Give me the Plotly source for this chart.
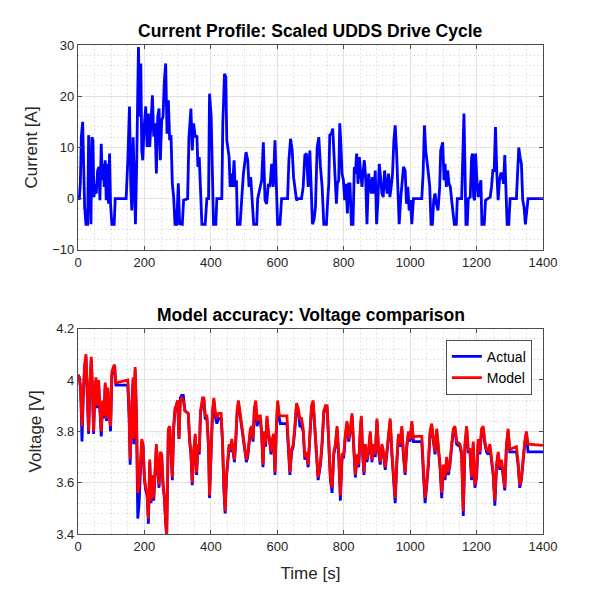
"""Current profile (scaled UDDS) and voltage model comparison
"""

from plotly.graph_objects import Scatter, Figure

# current profile (time [s], current [A])
t_cur = [
    0, 4, 7, 10, 14, 17, 20, 24, 29, 32,
    36, 39, 42, 45, 48, 52, 55, 59, 63, 66,
    70, 73, 76, 79, 82, 85, 88, 92, 95, 98,
    102, 109, 112, 145, 150, 155, 159, 162, 166, 170,
    173, 177, 182, 186, 189, 192, 195, 199, 204, 208,
    212, 216, 220, 224, 228, 232, 236, 240, 244, 248,
    252, 256, 260, 264, 268, 272, 276, 280, 284, 288,
    292, 297, 302, 306, 314, 318, 330, 334, 340, 344,
    348, 353, 358, 361, 365, 368, 373, 383, 388, 393,
    396, 401, 405, 408, 415, 418, 433, 436, 441, 445,
    448, 451, 455, 458, 461, 465, 470, 473, 477, 480,
    488, 493, 498, 503, 506, 511, 515, 520, 525, 529,
    538, 541, 553, 558, 563, 568, 573, 578, 583, 588,
    593, 598, 601, 608, 613, 631, 635, 640, 645, 649,
    653, 658, 663, 673, 678, 683, 688, 693, 698, 703,
    706, 711, 715, 720, 725, 730, 735, 740, 748, 752,
    755, 758, 763, 767, 771, 775, 778, 781, 785, 788,
    791, 795, 799, 803, 807, 811, 815, 819, 823, 828,
    832, 835, 839, 843, 847, 851, 855, 858, 862, 866,
    870, 875, 879, 883, 887, 891, 895, 899, 903, 907,
    911, 915, 919, 923, 927, 931, 935, 939, 943, 947,
    951, 955, 959, 963, 967, 972, 976, 980, 985, 989,
    993, 997, 1001, 1005, 1010, 1035, 1039, 1043, 1047, 1051,
    1055, 1059, 1063, 1067, 1071, 1075, 1079, 1084, 1089, 1092,
    1095, 1098, 1102, 1105, 1109, 1113, 1117, 1121, 1125, 1129,
    1133, 1139, 1142, 1155, 1158, 1162, 1165, 1168, 1172, 1175,
    1181, 1185, 1188, 1191, 1194, 1197, 1201, 1205, 1209, 1213,
    1216, 1223, 1227, 1235, 1241, 1245, 1249, 1253, 1257, 1261,
    1265, 1269, 1273, 1277, 1281, 1285, 1289, 1292, 1297, 1301,
    1320, 1324, 1327, 1331, 1335, 1339, 1343, 1347, 1351, 1355,
    1400,
]
i_cur = [
    0, 0, 3, 12, 15, 3.6, -1.6, -5, -5, 12.4,
    3.6, -5, 12, 11.4, 0.3, 2.9, 1, 5.5, 6.2, -0.3,
    10.7, 3.6, 6.8, 2.3, 7.5, -0.3, 6.8, -1, 8.8, -1,
    -5, -5, 0, 0, 7.5, 18, 2.3, -2.3, 12, -1.6,
    -5, 8.1, 29.6, 16, 26.4, 9.4, 7.5, 14, 18, 10.1,
    16.6, 10.1, 14.7, 20.2, 12.1, 14.7, 4.9, 16, 17.6, 7.5,
    15.3, 16, 23, 26.4, 12.7, 19.2, 11.4, 12.4, 2.9, 0.3,
    -5, -5, 3, -4.9, -5, -0.3, 0, 12, 17.6, 9.4,
    14.7, 12, 12.3, 6.2, 8.1, 2.3, -5, -5, 0, 0,
    20.5, 16, 6.2, -5, -5, 0, 0, 14.7, 24.4, 23.8,
    11.4, 9.4, 8.1, 2.3, 4.9, 2.3, 7.5, 2.3, 3.6, -5,
    -5, 0, 4.9, 7.5, 9.1, 7.5, 2.3, 4.2, 0, -5,
    -5, 0, 3.6, 11, -0.3, -1, 2.9, 2.3, 6.8, 2.3,
    11.4, 2.3, -5, -5, 0, 0, 7.5, 11.7, 9.4, 4.2,
    2.3, -0.3, 0, 0, 2.3, 8.5, 8.8, 2.3, 9.4, 0,
    -5, -4, -1.6, 10, 12, 6.2, 2.3, -5, -5, 0,
    2.9, 12.4, 12.7, 13.7, 9.4, 2.9, -1, 2.9, 3.6, 14.7,
    11.4, 4.9, 3.6, -0.3, 2.9, -2.9, 2.9, 2.9, -5, -5,
    6.2, 4.9, 8.8, 2.9, 8.1, 4.2, 2.3, 4.9, 7.5, 4.2,
    -5, 4.9, 2.9, 1, 4.2, 1, 5.5, -5, -0.3, 6.8,
    4.2, 1, 0.3, 5.5, 2.9, 1, 4.9, 0.3, 2.3, 4.9,
    11.4, 14.3, 9.4, 1, -5, 0.3, 4.2, 6.2, 5.5, -1,
    2.3, -2.3, -0.3, -5, 0, 0, 4.9, 14.3, 9.4, 7.5,
    4.9, 2.3, -5, -5, -0.3, 1, -1, -2.3, 2.3, 9.4,
    10, 11, 3.6, 6.8, 2.3, 5.5, 2.9, 2.3, -0.3, -2.9,
    -5, -5, 0, 0, 8.1, 16.6, 6.2, -5, -5, 0,
    0.3, 8.1, 8.8, 0.3, -0.3, 8.8, 3.6, 0.3, 2.3, 3.6,
    -5, -5, -0.3, 0, 0.3, 2.3, 5.5, 5.5, 14, 4.9,
    -0.3, 3.6, 4.9, 4.9, 2.9, 8.5, -0.3, -5, -5, 0,
    0, 5.5, 10, 8.1, 6.8, -0.3, -1.6, -5, -1.6, 0,
    0,
]

# terminal voltage (time [s], model [V], measured [V])
t_volt = [
    0, 4, 8, 12, 16, 20, 24, 28, 32, 36,
    40, 44, 47, 50, 54, 57, 62, 66, 70, 74,
    78, 82, 86, 90, 94, 98, 102, 106, 110, 114,
    118, 150, 154, 157, 162, 166, 168, 172, 176, 180,
    184, 188, 192, 196, 200, 204, 208, 212, 216, 220,
    224, 228, 232, 236, 240, 244, 248, 252, 256, 260,
    264, 267, 272, 276, 280, 284, 288, 292, 296, 300,
    304, 308, 312, 317, 322, 332, 336, 340, 344, 348,
    353, 357, 361, 365, 369, 375, 379, 383, 388, 393,
    396, 401, 405, 409, 413, 418, 423, 431, 435, 439,
    443, 447, 451, 455, 459, 463, 467, 471, 475, 479,
    483, 487, 491, 495, 499, 503, 507, 511, 515, 519,
    523, 527, 531, 535, 539, 543, 549, 553, 557, 561,
    565, 569, 573, 577, 581, 585, 589, 593, 597, 601,
    605, 609, 629, 633, 638, 643, 648, 653, 658, 663,
    668, 673, 678, 683, 688, 693, 698, 703, 708, 713,
    718, 723, 730, 735, 740, 745, 750, 755, 760, 765,
    770, 775, 780, 785, 790, 795, 800, 805, 810, 815,
    820, 825, 830, 835, 840, 845, 850, 853, 857, 861,
    865, 870, 875, 880, 885, 890, 895, 900, 905, 910,
    915, 920, 925, 930, 935, 940, 945, 950, 955, 960,
    965, 970, 975, 980, 985, 990, 995, 1000, 1005, 1010,
    1012, 1035, 1040, 1045, 1050, 1055, 1060, 1065, 1070, 1075,
    1080, 1085, 1090, 1095, 1100, 1105, 1110, 1115, 1120, 1125,
    1130, 1135, 1140, 1150, 1155, 1160, 1165, 1170, 1175, 1180,
    1185, 1190, 1195, 1200, 1205, 1210, 1215, 1220, 1225, 1230,
    1235, 1240, 1245, 1250, 1255, 1260, 1265, 1270, 1275, 1280,
    1285, 1290, 1295, 1300, 1320, 1325, 1330, 1335, 1340, 1345,
    1350, 1355, 1400,
]
v_model = [
    4.02, 4.01, 3.97, 3.82, 3.95, 4.06, 4.10, 3.95, 3.80, 3.99,
    4.09, 3.95, 3.80, 3.93, 4.01, 3.90, 4.00, 3.89, 3.80, 3.92,
    3.86, 3.99, 3.85, 3.97, 3.86, 3.82, 4.03, 4.05, 4.06, 3.99,
    3.99, 4.00, 3.87, 3.69, 3.92, 4.01, 3.77, 4.05, 3.87, 3.56,
    3.59, 3.69, 3.77, 3.75, 3.62, 3.58, 3.56, 3.46, 3.69, 3.53,
    3.63, 3.54, 3.63, 3.75, 3.66, 3.59, 3.72, 3.71, 3.60, 3.55,
    3.45, 3.40, 3.81, 3.82, 3.73, 3.62, 3.82, 3.89, 3.90, 3.92,
    3.77, 3.92, 3.93, 3.92, 3.88, 3.87, 3.77, 3.72, 3.60, 3.72,
    3.79, 3.64, 3.75, 3.72, 3.88, 3.93, 3.93, 3.86, 3.86, 3.75,
    3.55, 3.75, 3.88, 3.93, 3.88, 3.85, 3.87, 3.87, 3.77, 3.59,
    3.49, 3.63, 3.69, 3.75, 3.73, 3.77, 3.73, 3.69, 3.77, 3.88,
    3.92, 3.88, 3.84, 3.82, 3.76, 3.72, 3.69, 3.71, 3.75, 3.81,
    3.82, 3.77, 3.89, 3.92, 3.84, 3.86, 3.86, 3.80, 3.67, 3.80,
    3.75, 3.86, 3.80, 3.77, 3.72, 3.77, 3.79, 3.64, 3.81, 3.92,
    3.87, 3.86, 3.86, 3.75, 3.64, 3.73, 3.75, 3.82, 3.91, 3.89,
    3.85, 3.85, 3.81, 3.70, 3.72, 3.67, 3.81, 3.90, 3.92, 3.81,
    3.70, 3.62, 3.68, 3.76, 3.88, 3.90, 3.90, 3.75, 3.62, 3.58,
    3.72, 3.75, 3.82, 3.71, 3.55, 3.71, 3.71, 3.79, 3.84, 3.77,
    3.81, 3.87, 3.72, 3.63, 3.71, 3.67, 3.81, 3.86, 3.72, 3.64,
    3.75, 3.69, 3.73, 3.80, 3.69, 3.75, 3.71, 3.85, 3.73, 3.68,
    3.75, 3.72, 3.66, 3.72, 3.80, 3.85, 3.72, 3.62, 3.54, 3.69,
    3.79, 3.75, 3.82, 3.71, 3.64, 3.75, 3.80, 3.77, 3.84, 3.77,
    3.78, 3.78, 3.64, 3.54, 3.60, 3.68, 3.80, 3.83, 3.77, 3.72,
    3.81, 3.75, 3.67, 3.56, 3.67, 3.62, 3.70, 3.64, 3.68, 3.75,
    3.81, 3.82, 3.76, 3.75, 3.72, 3.49, 3.75, 3.82, 3.73, 3.73,
    3.62, 3.76, 3.59, 3.63, 3.77, 3.72, 3.81, 3.82, 3.76, 3.73,
    3.72, 3.75, 3.69, 3.64, 3.53, 3.67, 3.72, 3.66, 3.69, 3.64,
    3.58, 3.75, 3.81, 3.73, 3.74, 3.68, 3.59, 3.62, 3.71, 3.76,
    3.80, 3.75, 3.745,
]
v_actual = [
    4.02, 4.01, 3.96, 3.76, 3.94, 4.05, 4.09, 3.94, 3.79, 3.98,
    4.08, 3.94, 3.79, 3.92, 4.00, 3.89, 3.99, 3.88, 3.78, 3.91,
    3.85, 3.98, 3.84, 3.96, 3.85, 3.80, 4.02, 4.04, 4.05, 3.98,
    3.98, 3.98, 3.85, 3.67, 3.91, 4.00, 3.75, 4.04, 3.85, 3.46,
    3.52, 3.68, 3.76, 3.74, 3.61, 3.57, 3.55, 3.44, 3.68, 3.52,
    3.62, 3.53, 3.62, 3.74, 3.65, 3.58, 3.71, 3.70, 3.59, 3.54,
    3.44, 3.39, 3.80, 3.81, 3.72, 3.61, 3.81, 3.88, 3.90, 3.92,
    3.77, 3.93, 3.94, 3.94, 3.88, 3.87, 3.76, 3.71, 3.59, 3.71,
    3.78, 3.63, 3.74, 3.71, 3.87, 3.92, 3.92, 3.85, 3.85, 3.74,
    3.54, 3.74, 3.87, 3.92, 3.86, 3.83, 3.85, 3.85, 3.76, 3.58,
    3.48, 3.62, 3.68, 3.74, 3.72, 3.76, 3.72, 3.68, 3.76, 3.87,
    3.91, 3.87, 3.83, 3.81, 3.75, 3.71, 3.68, 3.70, 3.74, 3.80,
    3.81, 3.76, 3.88, 3.91, 3.82, 3.84, 3.84, 3.79, 3.66, 3.79,
    3.74, 3.85, 3.79, 3.76, 3.71, 3.76, 3.78, 3.63, 3.80, 3.91,
    3.86, 3.83, 3.83, 3.74, 3.63, 3.72, 3.74, 3.81, 3.90, 3.88,
    3.82, 3.82, 3.80, 3.69, 3.71, 3.66, 3.80, 3.89, 3.91, 3.80,
    3.69, 3.61, 3.67, 3.75, 3.87, 3.89, 3.89, 3.74, 3.61, 3.56,
    3.71, 3.74, 3.81, 3.70, 3.53, 3.70, 3.70, 3.78, 3.83, 3.76,
    3.80, 3.86, 3.71, 3.62, 3.70, 3.66, 3.80, 3.85, 3.71, 3.63,
    3.74, 3.68, 3.72, 3.79, 3.68, 3.74, 3.70, 3.84, 3.72, 3.67,
    3.74, 3.71, 3.65, 3.71, 3.79, 3.84, 3.71, 3.61, 3.52, 3.68,
    3.78, 3.74, 3.81, 3.70, 3.63, 3.74, 3.79, 3.76, 3.83, 3.76,
    3.76, 3.76, 3.63, 3.52, 3.59, 3.67, 3.79, 3.82, 3.76, 3.71,
    3.80, 3.74, 3.66, 3.54, 3.66, 3.61, 3.69, 3.63, 3.67, 3.74,
    3.80, 3.81, 3.75, 3.74, 3.71, 3.47, 3.74, 3.81, 3.72, 3.72,
    3.61, 3.75, 3.58, 3.62, 3.76, 3.71, 3.80, 3.81, 3.75, 3.72,
    3.71, 3.74, 3.68, 3.63, 3.51, 3.66, 3.71, 3.65, 3.68, 3.63,
    3.57, 3.74, 3.80, 3.72, 3.72, 3.67, 3.58, 3.61, 3.70, 3.75,
    3.79, 3.72, 3.72,
]

assert len(t_cur) == len(i_cur)
assert len(t_volt) == len(v_model) == len(v_actual)

FONT = "Liberation Sans"
AXCOL = "#4d4d4d"


def axis_style(dtick, minor, rng):
    """style commun des axes, façon matlab (boite, grille, grille mineure)"""
    return dict(
        range=rng, dtick=dtick, showline=True, mirror="ticks",
        linecolor=AXCOL, linewidth=1.2, ticks="inside", ticklen=4,
        tickcolor=AXCOL, showgrid=True, gridcolor="#e3e3e3", gridwidth=1,
        zeroline=False, automargin=False,
        tickfont=dict(size=13, color="#262626"),
        minor=dict(dtick=minor, showgrid=True, griddash="1px,3px",
                   gridcolor="#cfcfcf", gridwidth=1),
    )


def main():
    fig = Figure()
    fig.add_trace(Scatter(x=t_cur, y=i_cur, mode="lines", showlegend=False,
                          line=dict(color="#0000ff", width=2.8),
                          xaxis="x", yaxis="y"))
    fig.add_trace(Scatter(x=t_volt, y=v_actual, mode="lines", name="Actual",
                          line=dict(color="#0000ff", width=2.8),
                          xaxis="x2", yaxis="y2"))
    fig.add_trace(Scatter(x=t_volt, y=v_model, mode="lines", name="Model",
                          line=dict(color="#ff0000", width=2.8),
                          xaxis="x2", yaxis="y2"))

    # la page html ajoute 8px de marge autour de la figure
    xa = axis_style(200, 50, [0, 1400])
    fig.update_layout(
        width=592, height=592,
        paper_bgcolor="white", plot_bgcolor="white",
        font=dict(family=FONT, color="#262626"),
        margin=dict(l=70, r=57, t=37, b=66, autoexpand=False),
        xaxis=dict(xa, domain=[0, 1], anchor="y"),
        yaxis=dict(axis_style(10, 2, [-10, 30]), domain=[0.581, 1],
                   anchor="x",
                   title=dict(text="Current [A]", font=dict(size=17),
                              standoff=10)),
        xaxis2=dict(xa, domain=[0, 1], anchor="y2",
                    title=dict(text="Time [s]", font=dict(size=17),
                               standoff=14)),
        yaxis2=dict(axis_style(0.2, 0.04, [3.4, 4.2]), domain=[0, 0.42],
                    anchor="x2",
                    title=dict(text="Voltage [V]", font=dict(size=17),
                               standoff=10)),
        legend=dict(x=0.976, y=0.397, xanchor="right", yanchor="top",
                    bgcolor="white", bordercolor="#4d4d4d", borderwidth=1,
                    font=dict(size=14, color="#000000"),
                    tracegroupgap=0),
        annotations=[
            dict(text="<b>Current Profile: Scaled UDDS Drive Cycle</b>",
                 xref="x domain", yref="y domain", x=0.5, y=1,
                 xanchor="center", yanchor="bottom", yshift=2,
                 showarrow=False, font=dict(size=17.5, color="#000000")),
            dict(text="<b>Model accuracy: Voltage comparison</b>",
                 xref="x2 domain", yref="y2 domain", x=0.5, y=1,
                 xanchor="center", yanchor="bottom", yshift=2,
                 showarrow=False, font=dict(size=17.5, color="#000000")),
        ],
    )
    fig.write_html("out.html")


if __name__ == "__main__":
    main()
